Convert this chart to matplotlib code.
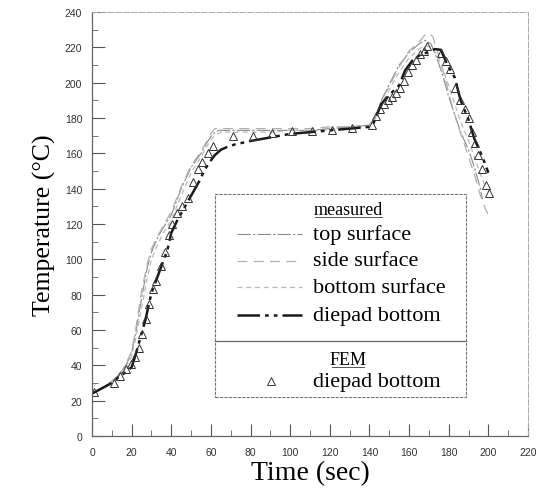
import matplotlib
matplotlib.use("Agg")
import matplotlib.pyplot as plt
from matplotlib.ticker import MultipleLocator

# ---- measured curves: time (s) vs temperature (°C) ----
t_top = [0, 5, 10, 15, 18, 20, 22, 25, 28, 30, 33, 36, 40, 45, 50, 55, 58, 61, 64, 70,
         80, 90, 100, 110, 120, 130, 140, 143, 146, 150, 155, 160, 165, 168, 171, 174,
         177, 180, 183, 186, 190, 193, 196, 197]
T_top = [24, 27, 31, 36, 42, 47, 58, 78, 96, 104, 112, 118, 125, 140, 152, 160, 166, 171, 173, 173,
         173, 173, 173, 173, 174, 175, 176, 180, 190, 199, 210, 217, 222, 224, 222, 214,
         204, 192, 182, 172, 162, 152, 140, 134]

t_side = [0, 5, 10, 15, 18, 20, 22, 25, 28, 30, 33, 36, 40, 45, 50, 55, 58, 60, 62, 65, 70,
          80, 90, 100, 110, 120, 130, 140, 143, 146, 150, 155, 160, 165, 168, 170, 172, 175,
          178, 181, 184, 187, 190, 193, 196, 198, 200]
T_side = [24, 27, 31, 37, 43, 48, 60, 82, 98, 106, 113, 119, 127, 141, 153, 161, 167, 171, 174, 174, 174,
          174, 174, 174, 174, 175, 175, 176, 181, 190, 198, 209, 218, 223, 227, 228, 226, 215,
          203, 190, 178, 168, 158, 148, 136, 130, 125]

t_bot = [0, 5, 10, 15, 18, 20, 22, 25, 28, 30, 33, 36, 40, 45, 50, 55, 58, 61, 65, 70,
         80, 90, 100, 110, 120, 130, 140, 143, 146, 150, 155, 160, 165, 168, 171, 174,
         177, 180, 183, 186, 190, 193, 196, 199]
T_bot = [24, 27, 30, 35, 41, 45, 55, 72, 90, 100, 108, 115, 122, 136, 149, 158, 164, 169, 172, 172,
         172, 172, 173, 173, 173, 174, 175, 179, 188, 196, 206, 214, 219, 221, 220, 216,
         208, 198, 188, 178, 167, 158, 148, 140]

t_die = [0, 5, 10, 14, 17, 20, 22, 25, 27, 30, 33, 35, 38, 40, 43, 45, 48, 51, 54, 57,
         60, 62, 65, 68, 72, 80, 90, 100, 110, 120, 130, 140, 142, 146, 150, 155, 158, 162,
         166, 169, 173, 176, 179, 183, 186, 190, 193, 197, 200]
T_die = [24, 27, 30, 34, 36, 39, 46, 58, 66, 81, 90, 96, 105, 115, 122, 126, 132, 138, 144, 151,
         156, 159, 162, 163.5, 165, 167, 169, 171, 172, 173, 174, 175, 177, 188, 193, 198.5, 207, 213,
         216, 217, 219, 218.6, 211, 203, 190, 179, 168, 158, 149]

# ---- FEM prediction at the diepad bottom ----
t_fem = [1, 11, 14, 17, 19.5, 21.5, 23.5, 25.2, 27.3, 29, 30.8, 32.5, 34.8, 37, 39, 40.5,
         43, 45.5, 48.3, 51, 53.5, 55.5, 58.4, 61, 71, 81, 91, 101, 111, 121, 131, 141.5,
         143.5, 145.5, 147.5, 149.5, 151.5, 153.5, 155.5, 157.5, 159.5, 161.5, 163.5, 165.5,
         167.5, 169, 176, 178.5, 180.5, 183, 185.5, 188, 190.3, 191.5, 193.3, 195, 196.6,
         198.7, 200.4]
T_fem = [25, 30, 34, 38, 41, 45, 50, 58, 66, 75, 83, 88, 96, 104, 114, 120,
         126, 130, 135, 144, 151, 155, 160, 164, 170, 170, 171.5, 172.5, 172.5, 173, 174.5, 176,
         181, 185, 188, 190, 192, 194, 197, 201, 206, 210, 213, 216,
         218, 221, 217, 212, 208, 197, 190, 185, 180, 172, 166, 159, 151,
         142, 137.5]

legend_rows = ["top surface", "side surface", "bottom surface", "diepad bottom"]

serif = ["Liberation Serif", "DejaVu Serif"]
sans = ["Liberation Sans", "DejaVu Sans"]

fig = plt.figure(figsize=(5.45, 4.89), dpi=100)
ax = fig.add_axes([92 / 545, 52 / 489, 436 / 545, 424 / 489])

ax.plot(t_top, T_top, color="#8a8a8a", lw=0.8, ls=(0, (12, 2, 2, 2)))
ax.plot(t_side, T_side, color="#b0b0b0", lw=0.9, ls=(0, (8, 5)))
ax.plot(t_bot, T_bot, color="#b8b8b8", lw=0.9, ls=(0, (4, 3)))
ax.plot(t_die, T_die, color="#1a1a1a", lw=1.8, ls=(0, (9, 2, 1.5, 2, 1.5, 2)))
ax.plot(t_fem, T_fem, ls="none", marker="^", ms=5.5, mfc="none", mec="#333333", mew=0.7)

ax.set_xlim(0, 220)
ax.set_ylim(0, 240)
ax.xaxis.set_major_locator(MultipleLocator(20))
ax.xaxis.set_minor_locator(MultipleLocator(10))
ax.yaxis.set_major_locator(MultipleLocator(20))
ax.yaxis.set_minor_locator(MultipleLocator(10))
ax.tick_params(which="major", direction="in", length=9, width=0.8, color="#555555",
               labelsize=7.5, top=False, right=False)
ax.tick_params(axis="x", which="major", pad=8)
ax.tick_params(axis="y", which="major", pad=7)
ax.tick_params(which="minor", direction="in", length=4, width=0.7, color="#777777",
               top=False, right=False)
for lbl in ax.get_xticklabels() + ax.get_yticklabels():
    lbl.set_family(sans)
    lbl.set_color("#333333")

for side in ("left", "bottom"):
    ax.spines[side].set_color("#666666")
    ax.spines[side].set_linewidth(0.9)
for side in ("top", "right"):
    ax.spines[side].set_color("#aaaaaa")
    ax.spines[side].set_linewidth(0.7)
    ax.spines[side].set_linestyle((0, (6, 2)))

ax.set_xlabel("Time (sec)", family=serif, fontsize=20, labelpad=2)
ax.set_ylabel("Temperature (°C)", family=serif, fontsize=18.6, labelpad=6)

# ---- legend panel drawn in data coordinates ----
bx0, bx1, by0, by1, bdiv = 62.3, 188.5, 22, 137, 54
box_style = dict(color="#777777", lw=0.8, ls=(0, (3, 1)))
ax.plot([bx0, bx1, bx1, bx0, bx0], [by0, by0, by1, by1, by0], **box_style)
ax.plot([bx0, bx1], [bdiv, bdiv], color="#666666", lw=0.9)

ax.text(129.5, 128, "measured", family=serif, fontsize=13, ha="center", va="center")
ax.plot([112.5, 146.5], [124.2, 124.2], color="#555555", lw=0.7)

sample_x = [73, 106]
row_y = [114.3, 99.3, 84.3, 68.3]
styles = [
    dict(color="#8a8a8a", lw=0.8, ls=(0, (12, 2, 2, 2))),
    dict(color="#b0b0b0", lw=0.9, ls=(0, (8, 5))),
    dict(color="#b8b8b8", lw=0.9, ls=(0, (4, 3))),
    dict(color="#1a1a1a", lw=1.8, ls=(0, (9, 2, 1.5, 2, 1.5, 2))),
]
for label, y, st in zip(legend_rows, row_y, styles):
    ax.plot(sample_x, [y, y], **st)
    ax.text(111.3, y, label, family=serif, fontsize=16, ha="left", va="center")

ax.text(129.2, 43.2, "FEM", family=serif, fontsize=13, ha="center", va="center")
ax.plot([121.2, 137.2], [39.3, 39.3], color="#555555", lw=0.7)
ax.plot([90.4], [31.2], ls="none", marker="^", ms=5.5, mfc="none", mec="#333333", mew=0.7)
ax.text(111.3, 30.7, "diepad bottom", family=serif, fontsize=16, ha="left", va="center")

fig.savefig("out.png", dpi=100)
